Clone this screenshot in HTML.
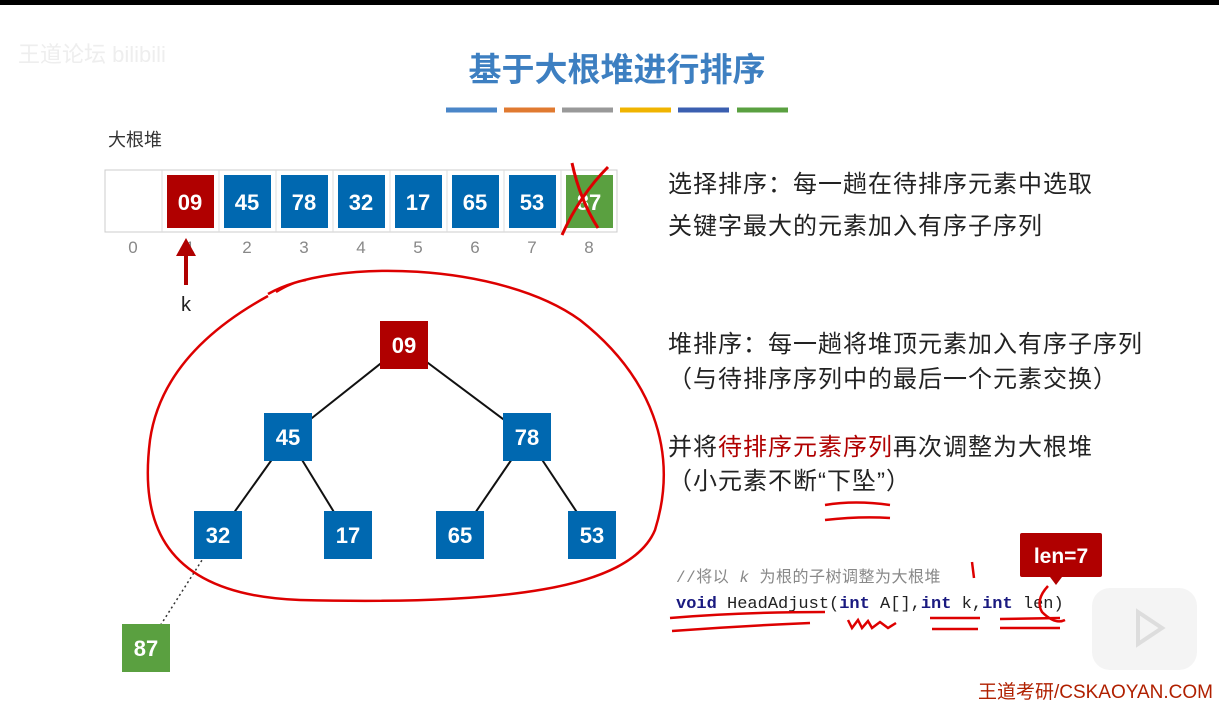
<!DOCTYPE html>
<html><head><meta charset="utf-8"><style>
body{margin:0;background:#fff;}
svg{display:block}
.s{font-family:"Liberation Sans","Noto Sans CJK SC",sans-serif}
.m{font-family:"Liberation Mono","Noto Sans CJK SC",monospace}
</style></head><body>
<svg width="1219" height="712" viewBox="0 0 1219 712" xmlns="http://www.w3.org/2000/svg">
<rect x="0" y="0" width="1219" height="5" fill="#000"/>
<text class="s" x="18" y="62" font-size="22" fill="#eee">王道论坛 bilibili</text>
<text class="s" x="617" y="81" font-size="33" font-weight="bold" fill="#3d7fc1" text-anchor="middle">基于大根堆进行排序</text>
<g stroke-width="5">
<line x1="446" y1="110" x2="497" y2="110" stroke="#4a86c8"/>
<line x1="504" y1="110" x2="555" y2="110" stroke="#e07a30"/>
<line x1="562" y1="110" x2="613" y2="110" stroke="#999"/>
<line x1="620" y1="110" x2="671" y2="110" stroke="#f0b400"/>
<line x1="678" y1="110" x2="729" y2="110" stroke="#3b5fb0"/>
<line x1="737" y1="110" x2="788" y2="110" stroke="#5aa040"/>
</g>
<text class="s" x="108" y="146" font-size="18" fill="#333">大根堆</text>
<rect x="105" y="170" width="512" height="62" fill="#fff" stroke="#ccc"/>
<g stroke="#ddd"><line x1="162" y1="170" x2="162" y2="232"/><line x1="219" y1="170" x2="219" y2="232"/><line x1="276" y1="170" x2="276" y2="232"/><line x1="333" y1="170" x2="333" y2="232"/><line x1="390" y1="170" x2="390" y2="232"/><line x1="447" y1="170" x2="447" y2="232"/><line x1="504" y1="170" x2="504" y2="232"/><line x1="561" y1="170" x2="561" y2="232"/></g>
<g class="s" font-size="22" font-weight="bold" fill="#fff" text-anchor="middle">
<rect x="167" y="175" width="47" height="53" fill="#b00000"/><text x="190" y="210">09</text>
<rect x="224" y="175" width="47" height="53" fill="#0068b0"/><text x="247" y="210">45</text>
<rect x="281" y="175" width="47" height="53" fill="#0068b0"/><text x="304" y="210">78</text>
<rect x="338" y="175" width="47" height="53" fill="#0068b0"/><text x="361" y="210">32</text>
<rect x="395" y="175" width="47" height="53" fill="#0068b0"/><text x="418" y="210">17</text>
<rect x="452" y="175" width="47" height="53" fill="#0068b0"/><text x="475" y="210">65</text>
<rect x="509" y="175" width="47" height="53" fill="#0068b0"/><text x="532" y="210">53</text>
<rect x="566" y="175" width="47" height="53" fill="#5aa040"/><text x="589" y="210">87</text>
</g>
<path d="M572 163 Q580 200 598 228 M608 167 Q580 195 562 235" stroke="#d00" stroke-width="3" fill="none"/>
<g class="s" font-size="17" fill="#888" text-anchor="middle">
<text x="133" y="253">0</text><text x="190" y="253">1</text><text x="247" y="253">2</text><text x="304" y="253">3</text><text x="361" y="253">4</text><text x="418" y="253">5</text><text x="475" y="253">6</text><text x="532" y="253">7</text><text x="589" y="253">8</text>
</g>
<line x1="186" y1="285" x2="186" y2="252" stroke="#b00000" stroke-width="4"/>
<polygon points="176,256 186,238 196,256" fill="#b00000"/>
<text class="s" x="186" y="311" font-size="20" fill="#222" text-anchor="middle">k</text>
<g stroke="#111" stroke-width="2">
<line x1="404" y1="345" x2="288" y2="437"/><line x1="404" y1="345" x2="527" y2="437"/>
<line x1="288" y1="437" x2="218" y2="535"/><line x1="288" y1="437" x2="348" y2="535"/>
<line x1="527" y1="437" x2="460" y2="535"/><line x1="527" y1="437" x2="592" y2="535"/>
</g>
<line x1="218" y1="535" x2="146" y2="648" stroke="#333" stroke-width="1.5" stroke-dasharray="2,3"/>
<g class="s" font-size="22" font-weight="bold" fill="#fff" text-anchor="middle">
<rect x="380" y="321" width="48" height="48" fill="#b00000"/><text x="404" y="353">09</text>
<rect x="264" y="413" width="48" height="48" fill="#0068b0"/><text x="288" y="445">45</text>
<rect x="503" y="413" width="48" height="48" fill="#0068b0"/><text x="527" y="445">78</text>
<rect x="194" y="511" width="48" height="48" fill="#0068b0"/><text x="218" y="543">32</text>
<rect x="324" y="511" width="48" height="48" fill="#0068b0"/><text x="348" y="543">17</text>
<rect x="436" y="511" width="48" height="48" fill="#0068b0"/><text x="460" y="543">65</text>
<rect x="568" y="511" width="48" height="48" fill="#0068b0"/><text x="592" y="543">53</text>
<rect x="122" y="624" width="48" height="48" fill="#5aa040"/><text x="146" y="656">87</text>
</g>
<path d="M276 292 Q292 282 306 280 M268 294 C330 258 500 262 580 320 C650 375 680 450 655 530 C630 590 500 605 300 600 C160 595 140 520 150 440 C160 370 215 325 268 296" stroke="#d00" stroke-width="2.5" fill="none"/>
<g class="s" font-size="24" fill="#222" letter-spacing="1">
<text x="668" y="192">选择排序：每一趟在待排序元素中选取</text>
<text x="668" y="234">关键字最大的元素加入有序子序列</text>
<text x="668" y="352">堆排序：每一趟将堆顶元素加入有序子序列</text>
<text x="668" y="387">（与待排序序列中的最后一个元素交换）</text>
<text x="668" y="455">并将<tspan fill="#b00000">待排序元素序列</tspan>再次调整为大根堆</text>
<text x="668" y="489">（小元素不断“下坠”）</text>
</g>
<path d="M825 505 Q855 500 890 505 M825 520 Q860 516 890 518" stroke="#d00" stroke-width="2.5" fill="none"/>
<text class="m" x="676" y="582" font-size="16" fill="#888" letter-spacing="0.5">//将以 <tspan font-style="italic">k</tspan> 为根的子树调整为大根堆</text>
<text class="m" x="676" y="608" font-size="17" fill="#222"><tspan fill="#1a1a80" font-weight="bold">void</tspan> HeadAdjust(<tspan fill="#1a1a80" font-weight="bold">int</tspan> A[],<tspan fill="#1a1a80" font-weight="bold">int</tspan> k,<tspan fill="#1a1a80" font-weight="bold">int</tspan> len)</text>
<rect x="1020" y="533" width="82" height="44" rx="2" fill="#b00000"/>
<polygon points="1050,577 1062,577 1056,585" fill="#b00000"/>
<text class="s" x="1061" y="563" font-size="21" font-weight="bold" fill="#fff" text-anchor="middle">len=7</text>
<g stroke="#d00" stroke-width="2.5" fill="none">
<path d="M670 618 Q740 612 825 612 M672 631 Q740 626 810 623"/>
<path d="M848 620 L852 628 L858 620 L862 628 L868 621 L872 628 L880 622 L888 628 L896 623"/>
<path d="M930 618 L980 618 M932 629 L978 629"/>
<path d="M1000 619 L1060 618 M1000 628 L1060 628"/>
<path d="M1048 586 Q1035 600 1042 612 Q1055 625 1065 620"/>
<path d="M972 562 L974 578"/>
</g>
<rect x="1092" y="588" width="105" height="82" rx="18" fill="#f4f4f4"/>
<path d="M1138 612 L1162 628 L1138 644 Z" fill="none" stroke="#ddd" stroke-width="4"/>
<text class="s" x="1213" y="698" font-size="19" fill="#b02000" text-anchor="end">王道考研/CSKAOYAN.COM</text>
</svg>
</body></html>
